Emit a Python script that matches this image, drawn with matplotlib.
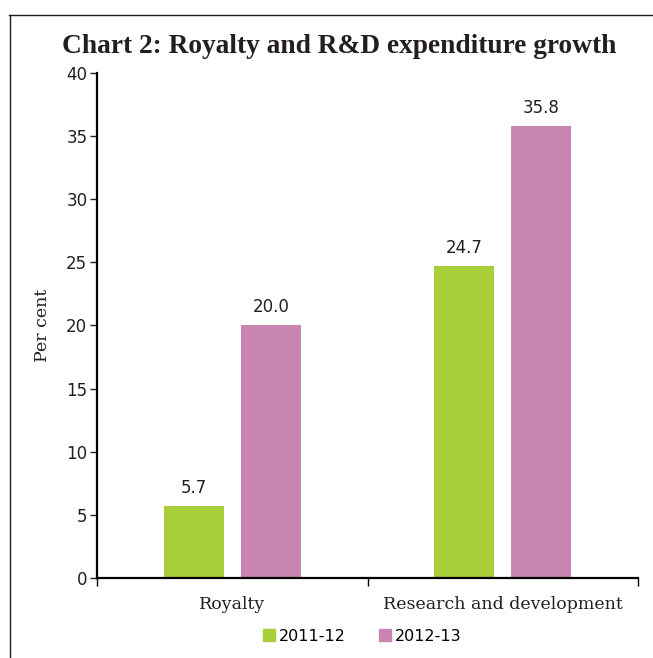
import matplotlib.pyplot as plt
from matplotlib.lines import Line2D
from matplotlib.patches import Patch
import numpy as np

categories = ['Royalty', 'Research and development']
years = ['2011-12', '2012-13']
growth_2011_12 = [5.7, 24.7]
growth_2012_13 = [20.0, 35.8]
y_ticks = [0, 5, 10, 15, 20, 25, 30, 35, 40]

green = '#a8cf3a'
pink = '#c986b0'
ink = '#231f20'

fig = plt.figure(figsize=(6.53, 6.58), dpi=100)
ax = fig.add_axes([0.1486, 0.1216, 0.8284, 0.7675])

x = np.arange(len(categories))
offset = 0.143
width = 0.222
b1 = ax.bar(x - offset, growth_2011_12, width, color=green, label=years[0])
b2 = ax.bar(x + offset, growth_2012_13, width, color=pink, label=years[1])

for bars, vals in ((b1, growth_2011_12), (b2, growth_2012_13)):
    for rect, v in zip(bars, vals):
        ax.text(rect.get_x() + rect.get_width() / 2, v + 0.75, f'{v:.1f}',
                ha='center', va='bottom', fontsize=12, color=ink)

ax.set_xlim(-0.5, 1.5)
ax.set_ylim(0, 40)
ax.set_yticks(y_ticks)
ax.tick_params(axis='y', labelsize=12, length=5, width=1, pad=2, colors=ink)

# category boundaries get the ticks, names sit in between
ax.set_xticks([-0.5, 0.5, 1.5])
ax.set_xticklabels([])
ax.tick_params(axis='x', length=6, width=1)
for xi, name in zip(x, categories):
    ax.text(xi, -1.4, name, ha='center', va='top', fontsize=12.5,
            family='DejaVu Serif', color=ink, transform=ax.transData)

ax.spines['top'].set_visible(False)
ax.spines['right'].set_visible(False)
ax.spines['left'].set_linewidth(1.6)
ax.spines['bottom'].set_linewidth(1.6)

ax.set_ylabel('Per cent', fontsize=12.5, family='DejaVu Serif', color=ink,
              labelpad=11)

fig.text(0.095, 0.93, 'Chart 2: Royalty and R&D expenditure growth',
         fontsize=19.7, fontweight='bold', family='Liberation Serif', va='center',
         color=ink)

handles = [Patch(color=green), Patch(color=pink)]
fig.legend(handles, years, loc='center', bbox_to_anchor=(0.555, 0.033), ncol=2,
           frameon=False, fontsize=11.5, handlelength=0.75, handleheight=0.75,
           handletextpad=0.25, columnspacing=2.1)

# partial box around the chart
fig.add_artist(Line2D([0.0138, 1.0], [0.977, 0.977], color=ink, lw=1))
fig.add_artist(Line2D([0.0153, 0.0153], [0.0, 0.977], color=ink, lw=1))

fig.savefig('out.png', dpi=100)
